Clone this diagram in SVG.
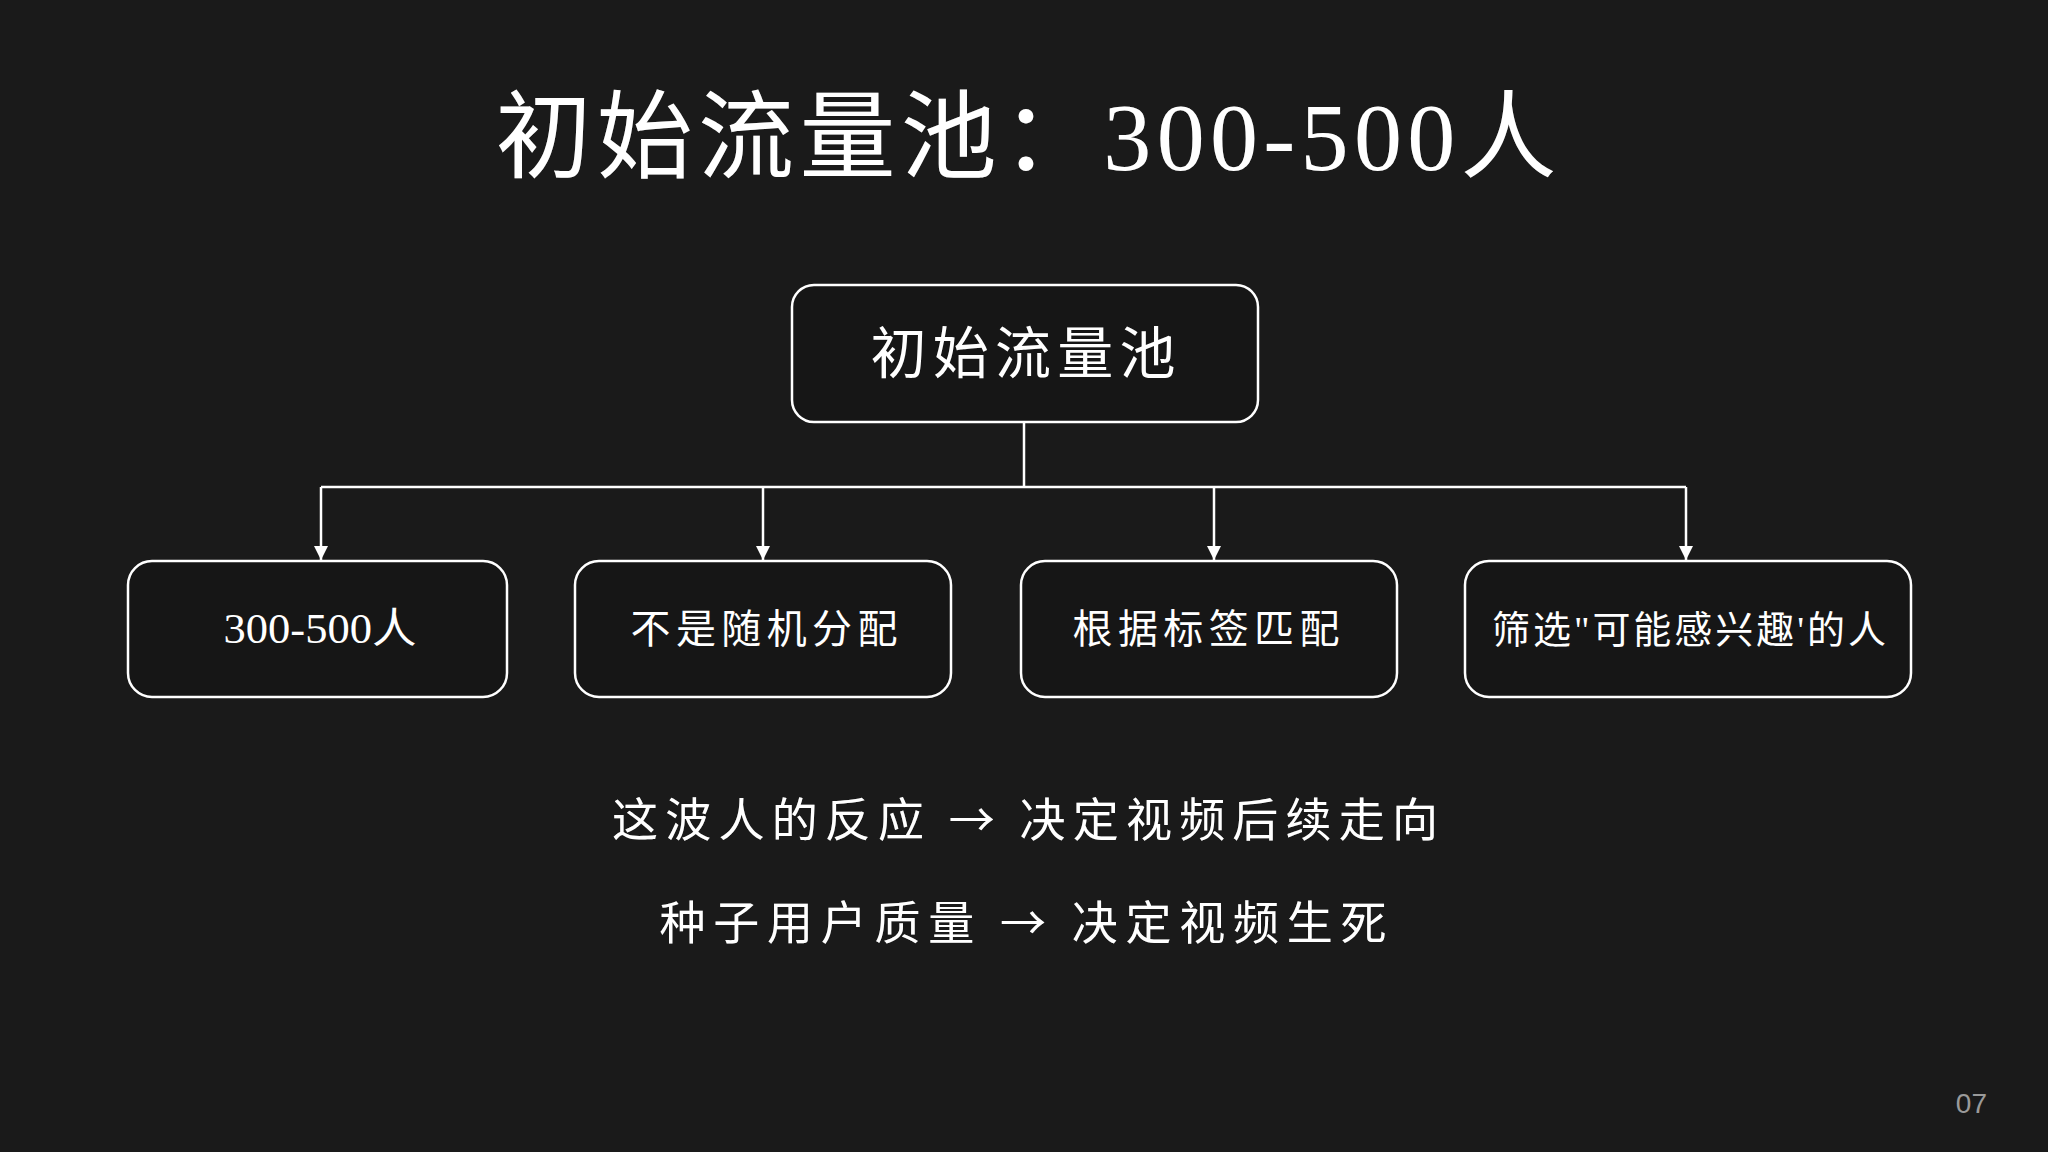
<svg xmlns="http://www.w3.org/2000/svg" width="2048" height="1152" viewBox="0 0 2048 1152">
<style>
.node rect{fill:#161616;stroke:#ffffff;stroke-width:2.5}
.t{fill:#ffffff;font-family:"Liberation Serif","Noto Sans CJK SC",serif;text-anchor:middle}
.c{fill:#ffffff;font-family:"Noto Sans CJK SC","Liberation Serif",sans-serif;text-anchor:middle}
.conn{stroke:#ffffff;stroke-width:2.5;fill:none}
</style>
<defs>
<marker id="ah" viewBox="0 0 14 14" refX="14" refY="7" markerWidth="14" markerHeight="14" markerUnits="userSpaceOnUse" orient="auto">
<path d="M0,0 L14,7 L0,14 Z" fill="#ffffff"/>
</marker>
<filter id="glow" x="-10%" y="-30%" width="120%" height="160%">
<feGaussianBlur in="SourceAlpha" stdDeviation="2"/>
<feFlood flood-color="#ffffff" flood-opacity="0.25"/>
<feComposite operator="in" in2="SourceAlpha"/>
<feMerge><feMergeNode/><feMergeNode in="SourceGraphic"/></feMerge>
</filter>
</defs>
<rect x="0" y="0" width="2048" height="1152" fill="#1a1a1a"/>
<g id="title">
<text class="t" x="1026" y="170" font-size="96" textLength="1061" lengthAdjust="spacing" filter="url(#glow)">初始流量池：300-500人</text>
</g>
<g id="connectors">
<path class="conn" d="M1024,422 V487"/>
<path class="conn" d="M321,487 H1686"/>
<path class="conn" d="M321,487 V560" marker-end="url(#ah)"/>
<path class="conn" d="M763,487 V560" marker-end="url(#ah)"/>
<path class="conn" d="M1214,487 V560" marker-end="url(#ah)"/>
<path class="conn" d="M1686,487 V560" marker-end="url(#ah)"/>
</g>
<g id="node-root" class="node">
<rect x="792" y="285" width="466" height="137" rx="22"/>
<text class="t" x="1023" y="373" font-size="56" textLength="305" lengthAdjust="spacing">初始流量池</text>
</g>
<g id="node-1" class="node">
<rect x="128" y="561" width="379" height="136" rx="24"/>
<text class="t" x="320" y="643" font-size="42" textLength="193" lengthAdjust="spacingAndGlyphs">300-500人</text>
</g>
<g id="node-2" class="node">
<rect x="575" y="561" width="376" height="136" rx="24"/>
<text class="t" x="764" y="643" font-size="40" textLength="267" lengthAdjust="spacing">不是随机分配</text>
</g>
<g id="node-3" class="node">
<rect x="1021" y="561" width="376" height="136" rx="24"/>
<text class="t" x="1206" y="643" font-size="40" textLength="267" lengthAdjust="spacing">根据标签匹配</text>
</g>
<g id="node-4" class="node">
<rect x="1465" y="561" width="446" height="136" rx="24"/>
<text class="t" x="1689" y="643" font-size="38" textLength="394" lengthAdjust="spacing">筛选"可能感兴趣'的人</text>
</g>
<g id="notes">
<text class="c" x="1025" y="836" font-size="46" textLength="826" lengthAdjust="spacing" filter="url(#glow)">这波人的反应 → 决定视频后续走向</text>
<text class="c" x="1023" y="939" font-size="46" textLength="727" lengthAdjust="spacing" filter="url(#glow)">种子用户质量 → 决定视频生死</text>
</g>
<g id="page">
<text x="1987" y="1113" font-size="28" fill="#9a9a9a" font-family="Liberation Sans, Arial, sans-serif" text-anchor="end">07</text>
</g>
</svg>
